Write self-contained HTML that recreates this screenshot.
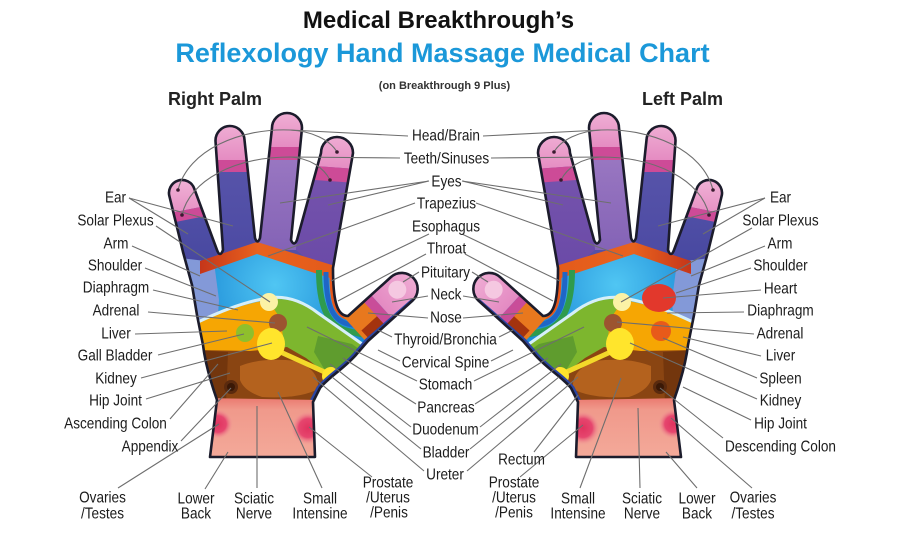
<!DOCTYPE html>
<html><head><meta charset="utf-8">
<style>
html,body{margin:0;padding:0;background:#fff;}
svg{display:block}
.l{font-family:"Liberation Sans",Arial,sans-serif;font-size:16px;fill:#1c1c1c;text-anchor:middle}
.t{font-family:"Liberation Sans",Arial,sans-serif;font-weight:bold;text-anchor:middle}
</style></head><body>
<svg width="905" height="539" viewBox="0 0 905 539" xmlns="http://www.w3.org/2000/svg" xmlns:xlink="http://www.w3.org/1999/xlink">
<defs>
<clipPath id="cR"><path d="M210,457 L217,400 C210,380 205,362 203,345 L197,315 L192,285 L183,252 L169.6,197 A13,13 0 0 1 194.4,189 L217,250 Q220,258 223,250 L215.5,141 A14.5,14.5 0 0 1 244.5,140 L255,238 Q257.5,245 260,238 L272,128 A15,15 0 0 1 302,128 L291,240 Q294,247 297,240 L321,153 A16,16 0 0 1 353,153 L333,268 C333,298 336,316 348,316 L391,277 A16,16 0 0 1 412.5,300.7 L368,341 L355,356 C342,370 328,378 320,388 L313,402 L315,457 Z"/></clipPath>
<linearGradient id="gPink" x1="0" y1="0" x2="0" y2="1"><stop offset="0" stop-color="#f3bcdb"/><stop offset="1" stop-color="#e58cc2"/></linearGradient>
<linearGradient id="gPink2" x1="1" y1="0" x2="0" y2="0"><stop offset="0" stop-color="#f0b0d6"/><stop offset="1" stop-color="#e48ac2"/></linearGradient>
<linearGradient id="gPk" x1="0" y1="0" x2="0" y2="1"><stop offset="0" stop-color="#5a58ae"/><stop offset="1" stop-color="#4848a0"/></linearGradient>
<linearGradient id="gRg" x1="0" y1="0" x2="0" y2="1"><stop offset="0" stop-color="#5d59ad"/><stop offset="1" stop-color="#4c4aa3"/></linearGradient>
<linearGradient id="gMd" x1="0" y1="0" x2="0" y2="1"><stop offset="0" stop-color="#a683c8"/><stop offset="1" stop-color="#8463b6"/></linearGradient>
<linearGradient id="gIx" x1="0" y1="0" x2="0" y2="1"><stop offset="0" stop-color="#7d5ab1"/><stop offset="1" stop-color="#6848a6"/></linearGradient>
<radialGradient id="gBl" gradientUnits="userSpaceOnUse" cx="275" cy="285" r="85"><stop offset="0" stop-color="#50c6f3"/><stop offset="1" stop-color="#1d8bd6"/></radialGradient>
<linearGradient id="gOr" x1="0" y1="0" x2="1" y2="0"><stop offset="0" stop-color="#c5361a"/><stop offset="0.4" stop-color="#e8621e"/><stop offset="1" stop-color="#e35a1a"/></linearGradient>
<linearGradient id="gWr" x1="0" y1="0" x2="0" y2="1"><stop offset="0" stop-color="#ea7a70"/><stop offset="0.18" stop-color="#f0998b"/><stop offset="1" stop-color="#f4ab9b"/></linearGradient>
<radialGradient id="gRc"><stop offset="0" stop-color="#e0335f"/><stop offset="0.55" stop-color="#e6466e"/><stop offset="1" stop-color="#f09a9a" stop-opacity="0"/></radialGradient>

<g id="handR">
 <g clip-path="url(#cR)">
  <rect x="150" y="100" width="290" height="370" fill="#5450a8"/>
  <polygon points="150,150 207,150 222,262 150,262" fill="url(#gPk)"/>
  <polygon points="207,110 258,110 258,250 222,262" fill="url(#gRg)"/>
  <polygon points="258,100 312,100 296,250 258,250" fill="url(#gMd)"/>
  <polygon points="312,100 370,100 345,290 296,250" fill="url(#gIx)"/>
  <polygon points="150,170 216,170 216,204 150,217" fill="url(#gPink)"/>
  <polygon points="150,217 216,204 216,214 150,227" fill="#cd4b97"/>
  <rect x="200" y="110" width="58" height="50" fill="url(#gPink)"/>
  <rect x="200" y="160" width="58" height="12" fill="#cd4b97"/>
  <rect x="258" y="100" width="57" height="47" fill="url(#gPink)"/>
  <rect x="258" y="147" width="57" height="13" fill="#cd4b97"/>
  <polygon points="315,120 370,120 370,170 315,166" fill="url(#gPink)"/>
  <polygon points="315,166 370,170 370,184 315,180" fill="#cd4b97"/>
  <polygon points="180,262 200,262 257,246 345,272 390,300 390,410 180,410" fill="url(#gBl)"/>
  <polygon points="180,258 214,262 219,300 217,330 206,334 180,334" fill="#8399d8"/>
  <polygon points="180,330 210,330 214,360 216,405 180,405" fill="#5b5bb4"/>
  <polygon points="200,261 257,242 345,269 345,283 257,254 200,274" fill="url(#gOr)"/>
  <path d="M319,270 C319,302 326,326 348,331 L385,340" stroke="#2f9b4e" stroke-width="6" fill="none"/>
  <path d="M326,272 C326,302 331,320 348,324 L380,330" stroke="#1f66c6" stroke-width="5" fill="none"/>
  <path d="M332,276 C332,302 336,316 350,318 L390,316" stroke="#e8561a" stroke-width="5" fill="none"/>
  <path d="M195,323 Q240,304 268,300 L283,302 L292,342 L270,354 L195,354 Z" fill="#f6a603"/>
  <path d="M268,300 Q293,295 318,314 L374,354 L346,382 L325,373 L300,357 L285,348 L280,318 Z" fill="#7db62e"/>
  <path d="M318,336 L352,344 L370,357 L346,380 L326,372 L314,352 Z" fill="#5f9c2e"/>
  <path d="M195,350 L250,351 L287,347 L306,358 L332,378 L342,393 L326,404 L195,406 Z" fill="#8a4512"/>
  <polygon points="195,350 228,352 226,404 195,406" fill="#6a300c" opacity=".7"/>
  <path d="M240,366 Q262,357 296,361 Q320,370 318,389 Q300,399 262,397 Q244,391 240,380 Z" fill="#b4621e"/>
  <circle cx="231" cy="387" r="7" fill="#5a2a0e"/><circle cx="231" cy="387" r="4" fill="#3a1806"/>
  <path d="M198,322 Q240,302 268,298 Q293,294 318,313 L375,353" stroke="#d6eff9" stroke-width="3" fill="none"/>
  <circle cx="269" cy="302" r="9" fill="#fbf2a6"/>
  <circle cx="278" cy="323" r="9" fill="#9c5430"/>
  <circle cx="245" cy="333" r="9" fill="#8fbf2c"/>
  <line x1="276" y1="350" x2="329" y2="374" stroke="#f3d92a" stroke-width="5" stroke-linecap="round"/>
  <ellipse cx="271" cy="344" rx="14" ry="16" fill="#ffe52c"/>
  <circle cx="331" cy="376" r="9" fill="#ffe52c"/>
  <g transform="translate(352,335) rotate(-42.3)">
   <rect x="6" y="-22" width="26" height="44" fill="#e8781e"/>
   <rect x="10" y="3" width="22" height="10" fill="#a4330e"/>
   <rect x="31" y="-22" width="10" height="44" fill="#c94d99"/>
   <rect x="41" y="-22" width="50" height="44" fill="url(#gPink2)"/>
   <circle cx="64" cy="-3" r="9" fill="#f5c8e1"/>
  </g>
  <path d="M414,302 L368,342 L355,357 C342,371 328,379 320,389 L313,403" stroke="#2c46a2" stroke-width="8" fill="none"/>
  <polygon points="200,398 320,400 320,462 200,462" fill="url(#gWr)"/>
  <circle cx="218" cy="424" r="15" fill="url(#gRc)"/>
  <circle cx="308" cy="428" r="17" fill="url(#gRc)"/>
 </g>
 <path d="M210,457 L217,400 C210,380 205,362 203,345 L197,315 L192,285 L183,252 L169.6,197 A13,13 0 0 1 194.4,189 L217,250 Q220,258 223,250 L215.5,141 A14.5,14.5 0 0 1 244.5,140 L255,238 Q257.5,245 260,238 L272,128 A15,15 0 0 1 302,128 L291,240 Q294,247 297,240 L321,153 A16,16 0 0 1 353,153 L333,268 C333,298 336,316 348,316 L391,277 A16,16 0 0 1 412.5,300.7 L368,341 L355,356 C342,370 328,378 320,388 L313,402 L315,457 Z" fill="none" stroke="#1c1c2c" stroke-width="2.6" stroke-linejoin="round"/>
</g>

<g id="cl">
 <g stroke="#6e6e6e" stroke-width="1.1" fill="none">
  <path d="M178,190 C188,150 240,128 290,130 C312,131 330,140 337,152"/>
  <path d="M182,215 C190,180 235,157 290,157 C310,158 324,168 330,180"/>
  <path d="M408,136 L290,130"/>
  <path d="M400,158 L290,157"/>
  <path d="M429,181 L280,203 M429,181 L328,205"/>
  <path d="M415,203 L268,256"/>
  <path d="M429,234 L331,281"/>
  <path d="M426,254 L338,301"/>
  <path d="M419,272 L403,282"/>
  <path d="M428,296 L392,302"/>
  <path d="M428,318 L368,313"/>
  <path d="M392,337 L378,330"/>
  <path d="M400,361 L378,350"/>
  <path d="M417,381 L307,327"/>
  <path d="M416,404 L343,358"/>
  <path d="M411,427 L330,364"/>
  <path d="M421,449 L332,377"/>
  <path d="M424,471 L313,377"/>
 </g>
 <g fill="#3a1a30">
  <circle cx="178" cy="190" r="1.8"/><circle cx="182" cy="215" r="1.8"/>
  <circle cx="337" cy="152" r="1.8"/><circle cx="330" cy="180" r="1.8"/>
 </g>
</g>
</defs>

<!-- hands -->
<use href="#handR" xlink:href="#handR"/>
<use href="#handR" xlink:href="#handR" transform="matrix(-1 0 0 1 891 0)"/>
<ellipse cx="659" cy="298" rx="17" ry="14" fill="#e2382c"/>
<circle cx="646" cy="333" r="10" fill="#f6a603"/>
<circle cx="661" cy="331" r="10" fill="#e85a1a"/>

<!-- connectors -->
<use href="#cl" xlink:href="#cl"/>
<use href="#cl" xlink:href="#cl" transform="matrix(-1 0 0 1 891 0)"/>
<path stroke="#6e6e6e" stroke-width="1.1" fill="none" d="M129,198 L233,226 M129,198 L188,234 M156,226 L270,302 M132,246 L200,276 M145,268 L216,296 M153,290 L238,310 M148,312 L275,323 M135,334 L227,331 M158,355 L244,334 M141,378 L272,343 M146,399 L230,373 M170,419 L218,364 M181,441 L231,388 M118,488 L219,424 M205,489 L228,452 M257,488 L257,406 M322,488 L278,392 M372,477 L309,427"/>
<path stroke="#6e6e6e" stroke-width="1.1" fill="none" d="M765,198 L658,226 M765,198 L703,234 M752,228 L621,302 M765,246 L691,276 M751,268 L676,293 M761,290 L663,298 M744,312 L667,313 M754,334 L617,322 M761,356 L683,337 M757,378 L663,338 M757,399 L630,343 M751,420 L683,387 M723,438 L660,388 M752,488 L671,418 M697,488 L666,452 M640,488 L638,408 M580,488 L621,378 M520,477 L583,425 M534,452 L578,395"/>

<!-- titles -->
<text class="t" x="438.5" y="28" font-size="24" fill="#111">Medical Breakthrough’s</text>
<text class="t" x="442.5" y="62" font-size="27" fill="#1b98d9">Reflexology Hand Massage Medical Chart</text>
<text class="t" x="444.5" y="89" font-size="11" fill="#333">(on Breakthrough 9 Plus)</text>
<text x="168" y="105" font-family="Liberation Sans, Arial, sans-serif" font-weight="bold" font-size="18" fill="#222">Right Palm</text>
<text x="642" y="105" font-family="Liberation Sans, Arial, sans-serif" font-weight="bold" font-size="18" fill="#222">Left Palm</text>

<!-- left column -->
<text class="l" transform="translate(115.5,202.7) scale(.85,1)">Ear</text>
<text class="l" transform="translate(115.5,225.7) scale(.85,1)">Solar Plexus</text>
<text class="l" transform="translate(116,248.7) scale(.85,1)">Arm</text>
<text class="l" transform="translate(115,270.7) scale(.85,1)">Shoulder</text>
<text class="l" transform="translate(116,292.7) scale(.85,1)">Diaphragm</text>
<text class="l" transform="translate(116,315.7) scale(.85,1)">Adrenal</text>
<text class="l" transform="translate(116,338.7) scale(.85,1)">Liver</text>
<text class="l" transform="translate(115,360.7) scale(.85,1)">Gall Bladder</text>
<text class="l" transform="translate(116,383.7) scale(.85,1)">Kidney</text>
<text class="l" transform="translate(115.5,405.7) scale(.85,1)">Hip Joint</text>
<text class="l" transform="translate(115.5,428.7) scale(.85,1)">Ascending Colon</text>
<text class="l" transform="translate(150,451.7) scale(.85,1)">Appendix</text>

<!-- right column -->
<text class="l" transform="translate(780.5,202.7) scale(.85,1)">Ear</text>
<text class="l" transform="translate(780.5,225.7) scale(.85,1)">Solar Plexus</text>
<text class="l" transform="translate(780,248.7) scale(.85,1)">Arm</text>
<text class="l" transform="translate(780.5,270.7) scale(.85,1)">Shoulder</text>
<text class="l" transform="translate(780.5,293.7) scale(.85,1)">Heart</text>
<text class="l" transform="translate(780.5,315.7) scale(.85,1)">Diaphragm</text>
<text class="l" transform="translate(780,338.7) scale(.85,1)">Adrenal</text>
<text class="l" transform="translate(780.5,360.7) scale(.85,1)">Liver</text>
<text class="l" transform="translate(780.5,383.7) scale(.85,1)">Spleen</text>
<text class="l" transform="translate(780.5,405.7) scale(.85,1)">Kidney</text>
<text class="l" transform="translate(780.5,428.7) scale(.85,1)">Hip Joint</text>
<text class="l" transform="translate(780.5,451.7) scale(.85,1)">Descending Colon</text>

<!-- center column -->
<text class="l" transform="translate(446,140.7) scale(.85,1)">Head/Brain</text>
<text class="l" transform="translate(446.5,163.7) scale(.85,1)">Teeth/Sinuses</text>
<text class="l" transform="translate(446.5,186.7) scale(.85,1)">Eyes</text>
<text class="l" transform="translate(446.5,208.7) scale(.85,1)">Trapezius</text>
<text class="l" transform="translate(446,231.7) scale(.85,1)">Esophagus</text>
<text class="l" transform="translate(446.5,253.7) scale(.85,1)">Throat</text>
<text class="l" transform="translate(445.5,277.7) scale(.85,1)">Pituitary</text>
<text class="l" transform="translate(446,299.7) scale(.85,1)">Neck</text>
<text class="l" transform="translate(446,322.7) scale(.85,1)">Nose</text>
<text class="l" transform="translate(445.5,344.7) scale(.85,1)">Thyroid/Bronchia</text>
<text class="l" transform="translate(445.5,367.7) scale(.85,1)">Cervical Spine</text>
<text class="l" transform="translate(445.5,389.7) scale(.85,1)">Stomach</text>
<text class="l" transform="translate(446,412.7) scale(.85,1)">Pancreas</text>
<text class="l" transform="translate(445.5,434.7) scale(.85,1)">Duodenum</text>
<text class="l" transform="translate(446,457.7) scale(.85,1)">Bladder</text>
<text class="l" transform="translate(445,479.7) scale(.85,1)">Ureter</text>

<!-- bottom right palm -->
<text class="l" transform="translate(102.5,502.7) scale(.85,1)">Ovaries</text>
<text class="l" transform="translate(102.5,518.7) scale(.85,1)">/Testes</text>
<text class="l" transform="translate(196,503.7) scale(.85,1)">Lower</text>
<text class="l" transform="translate(196,518.7) scale(.85,1)">Back</text>
<text class="l" transform="translate(254,503.7) scale(.85,1)">Sciatic</text>
<text class="l" transform="translate(254,518.7) scale(.85,1)">Nerve</text>
<text class="l" transform="translate(320,503.7) scale(.85,1)">Small</text>
<text class="l" transform="translate(320,518.7) scale(.85,1)">Intensine</text>
<text class="l" transform="translate(388,487.7) scale(.85,1)">Prostate</text>
<text class="l" transform="translate(388,502.7) scale(.85,1)">/Uterus</text>
<text class="l" transform="translate(389,517.7) scale(.85,1)">/Penis</text>

<!-- bottom left palm -->
<text class="l" transform="translate(521.5,464.7) scale(.85,1)">Rectum</text>
<text class="l" transform="translate(514,487.7) scale(.85,1)">Prostate</text>
<text class="l" transform="translate(514,502.7) scale(.85,1)">/Uterus</text>
<text class="l" transform="translate(514,517.7) scale(.85,1)">/Penis</text>
<text class="l" transform="translate(578,503.7) scale(.85,1)">Small</text>
<text class="l" transform="translate(578,518.7) scale(.85,1)">Intensine</text>
<text class="l" transform="translate(642,503.7) scale(.85,1)">Sciatic</text>
<text class="l" transform="translate(642,518.7) scale(.85,1)">Nerve</text>
<text class="l" transform="translate(697,503.7) scale(.85,1)">Lower</text>
<text class="l" transform="translate(697,518.7) scale(.85,1)">Back</text>
<text class="l" transform="translate(753,502.7) scale(.85,1)">Ovaries</text>
<text class="l" transform="translate(753,518.7) scale(.85,1)">/Testes</text>
</svg>
</body></html>
